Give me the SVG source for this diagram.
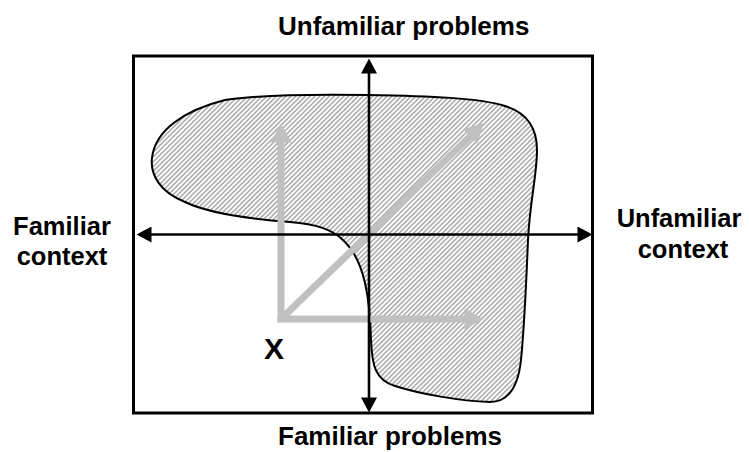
<svg xmlns="http://www.w3.org/2000/svg" width="749" height="452" viewBox="0 0 749 452">
<style>
  .lbl { font-family: "Liberation Sans", Arial, sans-serif; font-weight: bold; font-size: 25.5px; fill: #000; }
  .big { font-size: 26px; }
  .axis { stroke: #000; stroke-width: 2.6; fill: none; }
  .grey { stroke: #C0C0C0; stroke-width: 7; fill: none; }
</style>
<defs>
  <pattern id="hatch" patternUnits="userSpaceOnUse" width="3.4" height="3.4" patternTransform="rotate(45)">
    <rect width="3.4" height="3.4" fill="#fff"/>
    <line x1="1.7" y1="0" x2="1.7" y2="3.4" stroke="#999" stroke-width="1.3"/>
  </pattern>
  <marker id="blk" markerUnits="userSpaceOnUse" markerWidth="16" markerHeight="16" viewBox="0 0 15 16" refX="0.5" refY="8" orient="auto">
    <path d="M0,0 L15,8 L0,16 Z" fill="#000"/>
  </marker>
  <marker id="gry" markerUnits="userSpaceOnUse" markerWidth="20" markerHeight="21" viewBox="0 0 19 21" refX="0.5" refY="10.5" orient="auto">
    <path d="M0,0 L19,10.5 L0,21 Z" fill="#C0C0C0"/>
  </marker>
</defs>

<g id="frame">
  <rect x="133.5" y="56" width="459" height="357" fill="#fff" stroke="#000" stroke-width="3"/>
</g>

<g id="region">
  <path d="M 368,95 C 430,96 480,98 505,106 C 528,113 537,130 537,150 C 537,175 530,200 528,240 C 526,290 524,330 521,360 C 518,388 508,402 490,402 C 460,401 420,394 395,386 C 375,380 372,365 371,340 C 370,300 365,262 345,242 C 333,229 315,224 290,222 C 250,219 210,214 185,202 C 160,192 150,175 152,158 C 155,130 185,110 225,100 C 260,95 310,94 368,95 Z" fill="url(#hatch)" stroke="#000" stroke-width="2"/>
</g>

<g id="connectors">
  <g id="grey-arrows">
    <line class="grey" x1="281" y1="322" x2="281" y2="142" marker-end="url(#gry)"/>
    <line class="grey" x1="277.5" y1="319" x2="465" y2="319" marker-end="url(#gry)"/>
    <line class="grey" x1="281" y1="319" x2="470.3" y2="136.2" marker-end="url(#gry)"/>
  </g>
  <g id="axes">
    <line class="axis" x1="369" y1="236" x2="369" y2="73" marker-end="url(#blk)"/>
    <line class="axis" x1="369" y1="233" x2="369" y2="398" marker-end="url(#blk)"/>
    <line class="axis" x1="370" y1="234.5" x2="151" y2="234.5" marker-end="url(#blk)"/>
    <line class="axis" x1="368" y1="234.5" x2="578" y2="234.5" marker-end="url(#blk)"/>
  </g>
</g>

<g id="label-top"><text class="lbl big" x="278" y="35">Unfamiliar problems</text></g>
<g id="label-bottom"><text class="lbl big" x="278" y="445">Familiar problems</text></g>
<g id="label-left"><text class="lbl" text-anchor="middle"><tspan x="62" y="235">Familiar</tspan><tspan x="62" y="265">context</tspan></text></g>
<g id="label-right"><text class="lbl" text-anchor="middle"><tspan x="679" y="227">Unfamiliar</tspan><tspan x="683" y="258">context</tspan></text></g>
<g id="label-x"><text class="lbl" x="264" y="359" style="font-size:30px">X</text></g>
</svg>
